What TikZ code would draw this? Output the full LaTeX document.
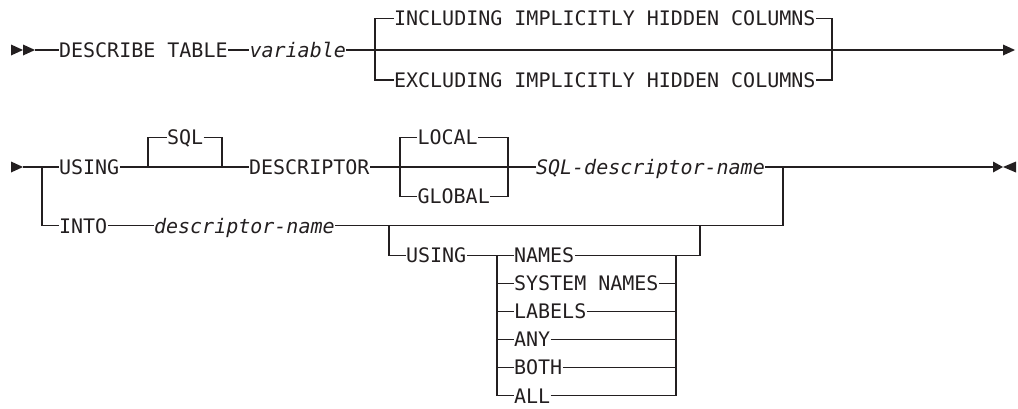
\documentclass[tikz,border=0pt]{standalone}
\usepackage{fontspec}
\newfontfamily\diagfont{DejaVu Sans Mono}
\definecolor{ink}{RGB}{35,31,32}
\begin{document}
\begin{tikzpicture}[x=1pt,y=-1pt,line width=1.1pt,draw=ink,
  kw/.style={font=\fontsize{20}{20}\selectfont\diagfont, text=ink, inner sep=0pt, anchor=west, text height=14.6pt, text depth=0pt},
  vr/.style={kw, font=\fontsize{20}{20}\selectfont\diagfont\itshape},
  tip/.style={fill=ink, draw=none}]
\useasboundingbox (0,0) rectangle (1018,408);
% ---------- row 1 ----------
\fill[tip] (11,44.5) -- (23,50) -- (11,55.5) -- cycle;
\fill[tip] (23,44.5) -- (35,50) -- (23,55.5) -- cycle;
\coordinate (s1) at (35,50);
\node[kw] (desc) at (58.5,50) {DESCRIBE TABLE};
\node[vr] (var) at (249,50) {variable};
\coordinate (f1) at (375,50);
\coordinate (j1) at (832,50);
\node[kw] (incl) at (393.5,18.5) {INCLUDING IMPLICITLY HIDDEN COLUMNS};
\node[kw] (excl) at (393.5,80) {EXCLUDING IMPLICITLY HIDDEN COLUMNS};
\coordinate (e1) at (1003,50);
\fill[tip] (1003,44.5) -- (1015,50) -- (1003,55.5) -- cycle;
\draw (s1) -- (desc.west);
\draw (desc.east) -- (var.west);
\draw (var.east) -- (e1);
\draw (f1) |- (incl.west);
\draw (f1) |- (excl.west);
\draw (incl.east) -| (j1);
\draw (excl.east) -| (j1);
% ---------- row 2 ----------
\fill[tip] (11,161.5) -- (23,167) -- (11,172.5) -- cycle;
\coordinate (s2) at (23,167);
\coordinate (f2) at (42,167);
\node[kw] (using) at (58.5,167) {USING};
\coordinate (sqlL) at (148,167);
\coordinate (sqlR) at (222,167);
\node[kw] (sql) at (166.5,137.6) {SQL};
\node[kw] (descr) at (248.5,167) {DESCRIPTOR};
\coordinate (locL) at (400,167);
\coordinate (locR) at (508,167);
\node[kw] (local) at (417,137.6) {LOCAL};
\node[kw] (global) at (417,196.4) {GLOBAL};
\node[vr] (sqlname) at (535.5,167) {SQL-descriptor-name};
\coordinate (j2) at (783,167);
\coordinate (e2) at (993,167);
\fill[tip] (993,161.5) -- (1003,167) -- (993,172.5) -- cycle;
\fill[tip] (1016,161.5) -- (1003,167) -- (1016,172.5) -- cycle;
\draw (s2) -- (using.west);
\draw (using.east) -- (descr.west);
\draw (sqlL) |- (sql.west);
\draw (sql.east) -| (sqlR);
\draw (descr.east) -- (sqlname.west);
\draw (locL) |- (local.west);
\draw (locL) |- (global.west);
\draw (local.east) -| (locR);
\draw (global.east) -| (locR);
\draw (sqlname.east) -- (e2);
% INTO branch
\node[kw] (into) at (58.5,225.8) {INTO};
\node[vr] (dname) at (153.5,225.8) {descriptor-name};
\draw (f2) |- (into.west);
\draw (into.east) -- (dname.west);
\draw (dname.east) -| (j2);
\coordinate (f3) at (389,225.8);
\coordinate (j3) at (700,225.8);
\node[kw] (using2) at (405.5,255.2) {USING};
\coordinate (c1) at (497,255.2);
\coordinate (c2) at (676,255.2);
\node[kw] (o1) at (513.5,255.2) {NAMES};
\node[kw] (o2) at (513.5,283.3) {SYSTEM NAMES};
\node[kw] (o3) at (513.5,311.4) {LABELS};
\node[kw] (o4) at (513.5,339.5) {ANY};
\node[kw] (o5) at (513.5,367.6) {BOTH};
\node[kw] (o6) at (513.5,395.7) {ALL};
\draw (f3) |- (using2.west);
\draw (using2.east) -- (o1.west);
\draw (o1.east) -| (j3);
\foreach \o in {o2,o3,o4,o5,o6}{
  \draw (c1) |- (\o.west);
  \draw (\o.east) -| (c2);
}
\end{tikzpicture}
\end{document}
